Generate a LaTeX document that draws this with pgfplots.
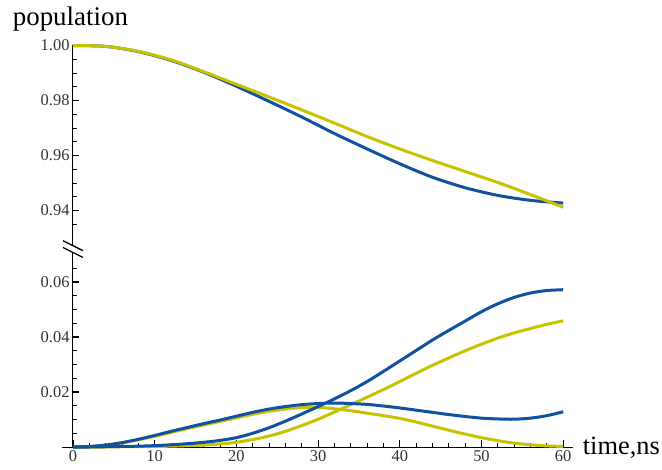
\documentclass[border=0pt]{standalone}
\usepackage{fontspec}
\setmainfont{Liberation Serif}
\usepackage{pgfplots}
\pgfplotsset{compat=1.18}
\definecolor{mblue}{RGB}{16,82,160}
\definecolor{myel}{RGB}{200,195,0}
\begin{document}
\begin{tikzpicture}
\path[use as bounding box] (-73bp,-23bp) rectangle (589bp,447bp);
\begin{axis}[
  scale only axis, width=500bp, height=402bp,
  xmin=0, xmax=61.2, ymin=0, ymax=0.1462,
  axis lines=left,
  axis line style={-, line width=1bp, black},
  xtick={0,10,...,60}, minor x tick num=4,
  ytick={0.02,0.04,0.06,0.086,0.106,0.126,0.146},
  yticklabels={0.02,0.04,0.06,0.94,0.96,0.98,1.00},
  minor ytick={0.005,0.01,0.015,0.025,0.03,0.035,0.045,0.05,0.055,0.065,
               0.081,0.091,0.096,0.101,0.111,0.116,0.121,0.131,0.136,0.141},
  tick align=inside,
  major tick length=6.5bp, minor tick length=4bp,
  every tick/.style={black, line width=1.1bp},
  every minor tick/.style={black, line width=1bp},
  ticklabel style={font=\fontsize{16.5}{19}\selectfont, text=black!80},
  /pgf/number format/assume math mode=true,
  clip=false,
]
% top region (values shifted by -0.854 for the broken axis)
\addplot[mblue, line width=3bp, smooth, y filter/.expression={y-0.854}] table {
t v
0 1.0000
4 0.9997
8 0.9978
12 0.9946
16 0.9903
20 0.9852
24 0.9797
28 0.9740
32 0.9680
36 0.9624
40 0.9570
44 0.9521
48 0.9483
52 0.9455
56 0.9437
60 0.9427
};
\addplot[myel, line width=3bp, smooth, y filter/.expression={y-0.854}] table {
t v
0 1.0000
4 0.9997
8 0.9979
12 0.9948
16 0.9905
20 0.9859
24 0.9813
28 0.9766
32 0.9718
36 0.9669
40 0.9624
44 0.9582
48 0.9542
52 0.9502
56 0.9458
60 0.9412
};
% bottom region
\addplot[myel, line width=3bp, smooth] table {
t v
0 0
2 0.0002
4 0.0006
6 0.0015
8 0.0026
10 0.0039
12 0.0053
14 0.0067
16 0.0080
18 0.0093
20 0.0106
22 0.0119
24 0.0130
26 0.0138
28 0.0143
30 0.0144
32 0.0139
34 0.0132
36 0.0123
38 0.0114
40 0.0104
42 0.0091
44 0.0076
46 0.0061
48 0.0047
50 0.0034
52 0.0023
54 0.0014
56 0.0008
58 0.0004
60 0.0002
};
\addplot[myel, line width=3bp, smooth] table {
t v
0 0
2 0
4 0
6 0.0001
8 0.0001
10 0.0002
12 0.0003
14 0.0005
16 0.0007
18 0.0011
20 0.0017
22 0.0027
24 0.0040
26 0.0057
28 0.0078
30 0.0101
32 0.0127
34 0.0154
36 0.0181
38 0.0209
40 0.0238
42 0.0268
44 0.0297
46 0.0324
48 0.0350
50 0.0374
52 0.0396
54 0.0415
56 0.0431
58 0.0446
60 0.0459
};
\addplot[mblue, line width=3bp, smooth] table {
t v
0 0
2 0.0002
4 0.0007
6 0.0016
8 0.0028
10 0.0042
12 0.0057
14 0.0071
16 0.0085
18 0.0098
20 0.0112
22 0.0126
24 0.0138
26 0.0147
28 0.0154
30 0.0158
32 0.0160
34 0.0158
36 0.0155
38 0.0149
40 0.0142
42 0.0134
44 0.0126
46 0.0118
48 0.0111
50 0.0105
52 0.0102
54 0.0101
56 0.0105
58 0.0114
60 0.0128
};
\addplot[mblue, line width=3bp, smooth] table {
t v
0 0
2 0.0000
4 0.0001
6 0.0002
8 0.0003
10 0.0005
12 0.0008
14 0.0012
16 0.0017
18 0.0024
20 0.0034
22 0.0050
24 0.0070
26 0.0094
28 0.0120
30 0.0147
32 0.0175
34 0.0205
36 0.0238
38 0.0275
40 0.0313
42 0.0351
44 0.0389
46 0.0424
48 0.0458
50 0.0492
52 0.0521
54 0.0544
56 0.0560
58 0.0569
60 0.0572
};
\end{axis}
% short extension of the x axis to the left of the origin
\draw[black, line width=1bp] (-11bp,0) -- (0.5bp,0);
% axis break symbol
\fill[white] (-10bp,206.3bp) -- (10bp,196.3bp) -- (10bp,189.5bp) -- (-10bp,199.5bp) -- cycle;
\draw[black, line width=1.3bp] (-10bp,206.3bp) -- (10bp,196.3bp);
\draw[black, line width=1.3bp] (-10bp,199.5bp) -- (10bp,189.5bp);
% axis labels
\node[anchor=base west, inner sep=0pt, font=\fontsize{27}{32}\selectfont] at (-60.3bp,421bp) {population};
\node[anchor=base west, inner sep=0pt, font=\fontsize{26.5}{32}\selectfont] at (509.7bp,-7.5bp) {time,ns};
\end{tikzpicture}
\end{document}
